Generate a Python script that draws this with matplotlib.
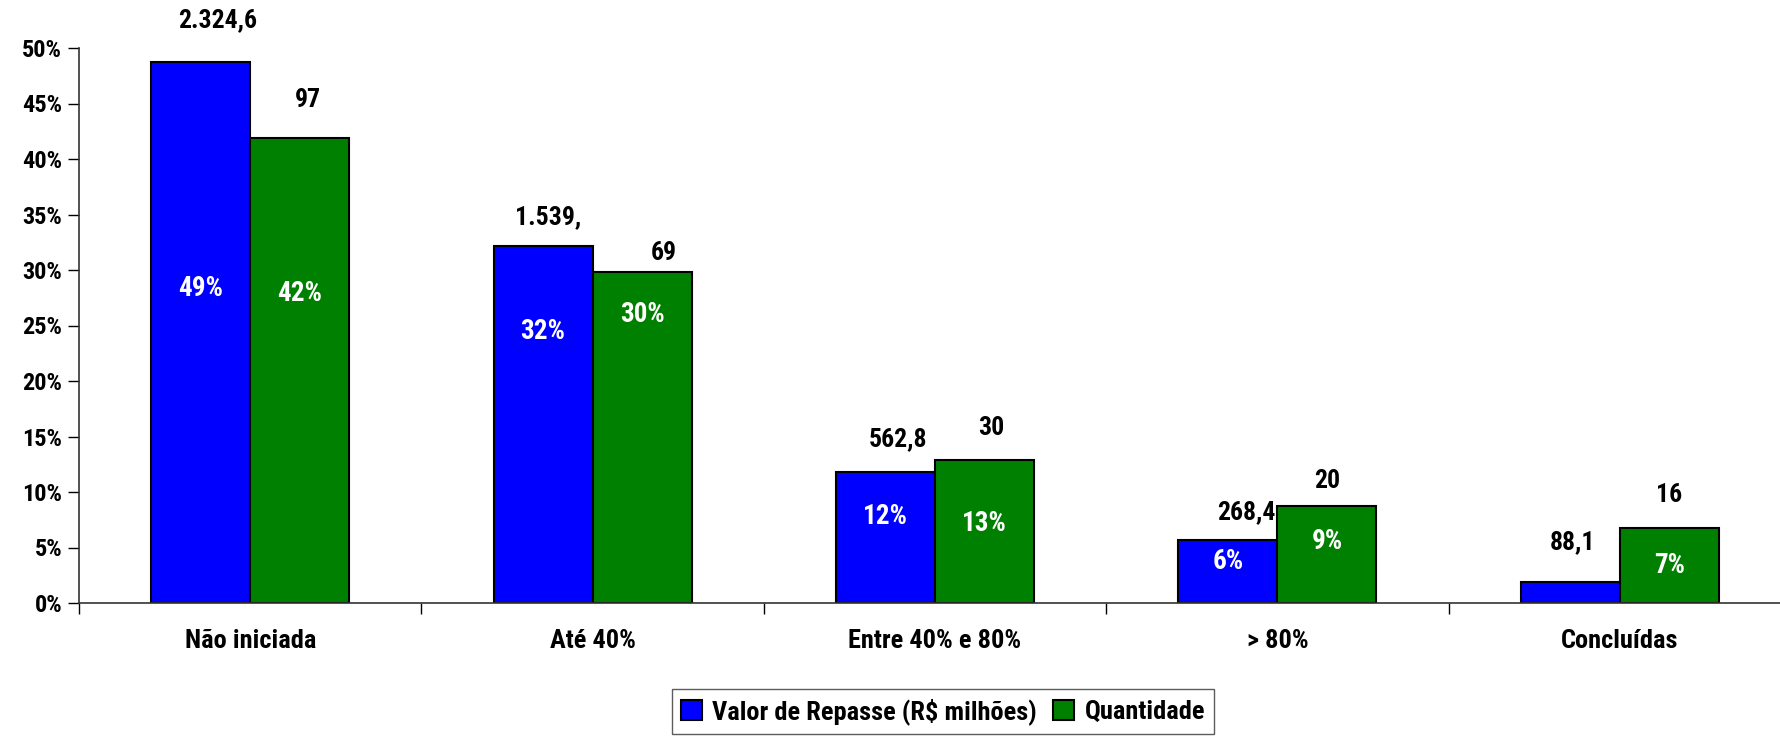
import numpy as np
import matplotlib
matplotlib.use("Agg")
import matplotlib.pyplot as plt
from matplotlib.font_manager import fontManager

# data
categories = ['Não iniciada', 'Até 40%', 'Entre 40% e 80%', '> 80%', 'Concluídas']
valor_pct = [48.7, 32.2, 11.8, 5.7, 1.9]
qtd_pct = [41.9, 29.8, 12.9, 8.7, 6.8]
valor_labels = ['2.324,6', '1.539,', '562,8', '268,4', '88,1']
qtd_labels = ['97', '69', '30', '20', '16']
valor_inner = ['49%', '32%', '12%', '6%', '']
qtd_inner = ['42%', '30%', '13%', '9%', '7%']
yticks = [0, 5, 10, 15, 20, 25, 30, 35, 40, 45, 50]

# label placement (pixels), as the original chart has them
valor_inner_y = [28.3, 24.5, 7.8, 3.7, 0]
qtd_inner_y = [27.9, 26.0, 7.2, 5.5, 3.4]
valor_top_off = [42, 28, 33, 28, 40]
qtd_top_off = [38, 19, 32, 25, 33]
valor_dx = [17, 5, 12, 18, 2]
qtd_dx = [8, 22, 7, 0, 0]

# narrow bold font, close to Arial Narrow
names = {f.name for f in fontManager.ttflist}
fam = 'DejaVu Sans'
for cand in ['Liberation Sans Narrow', 'Roboto Condensed', 'PT Sans Narrow',
             'Archivo Narrow', 'Asap Condensed', 'Barlow Condensed']:
    if cand in names:
        fam = cand
        break
plt.rcParams['font.family'] = [fam, 'DejaVu Sans']
plt.rcParams['font.weight'] = 'bold'

fig = plt.figure(figsize=(17.8, 7.36), dpi=100)
ax = fig.add_axes([79 / 1780, 133 / 736, 1712 / 1780, 555 / 736])

x = np.arange(len(categories))
w = 0.289
ax.bar(x - w / 2, valor_pct, w, color='#0000FF', edgecolor='black', linewidth=1.5,
       label='Valor de Repasse (R$ milhões)')
ax.bar(x + w / 2, qtd_pct, w, color='#008000', edgecolor='black', linewidth=1.5,
       label='Quantidade')

py = 50 / 555    # percent per pixel
pxx = 5 / 1712   # category units per pixel
for i in range(len(categories)):
    ax.text(x[i] - w / 2 + valor_dx[i] * pxx, valor_pct[i] + valor_top_off[i] * py,
            valor_labels[i], ha='center', va='center', fontsize=18.5, fontweight='bold')
    ax.text(x[i] + w / 2 + qtd_dx[i] * pxx, qtd_pct[i] + qtd_top_off[i] * py,
            qtd_labels[i], ha='center', va='center', fontsize=18.5, fontweight='bold')
    if valor_inner[i]:
        ax.text(x[i] - w / 2, valor_inner_y[i], valor_inner[i], ha='center', va='center',
                fontsize=19.5, fontweight='bold', color='white')
    ax.text(x[i] + w / 2, qtd_inner_y[i], qtd_inner[i], ha='center', va='center',
            fontsize=19.5, fontweight='bold', color='white')

ax.set_xlim(-0.5, len(categories) - 0.5)
ax.set_ylim(0, 50)
ax.set_yticks(yticks)
ax.set_yticklabels([f'{t}%' for t in yticks], fontsize=17.5, fontweight='bold')
ax.set_xticks(x)
ax.set_xticklabels(categories, fontsize=19, fontweight='bold')
ax.set_xticks(np.arange(len(categories) + 1) - 0.5, minor=True)
ax.tick_params(axis='x', which='major', length=0, pad=19)
ax.tick_params(axis='x', which='minor', length=8, width=1, direction='out')
ax.tick_params(axis='y', length=8, width=1, direction='out', pad=4)
for s in ['top', 'right']:
    ax.spines[s].set_visible(False)
for s in ['left', 'bottom']:
    ax.spines[s].set_linewidth(1.2)
    ax.spines[s].set_color('#333333')

leg = fig.legend(loc='upper center', bbox_to_anchor=(943 / 1780, 1 - 689 / 736), ncol=2,
                 fontsize=19, frameon=True, fancybox=False, edgecolor='#333333',
                 handlelength=0.8, handleheight=0.8, handletextpad=0.4, columnspacing=0.6,
                 borderpad=0.35, borderaxespad=0)
leg.get_frame().set_linewidth(1.0)

fig.savefig('out.png', dpi=100)
